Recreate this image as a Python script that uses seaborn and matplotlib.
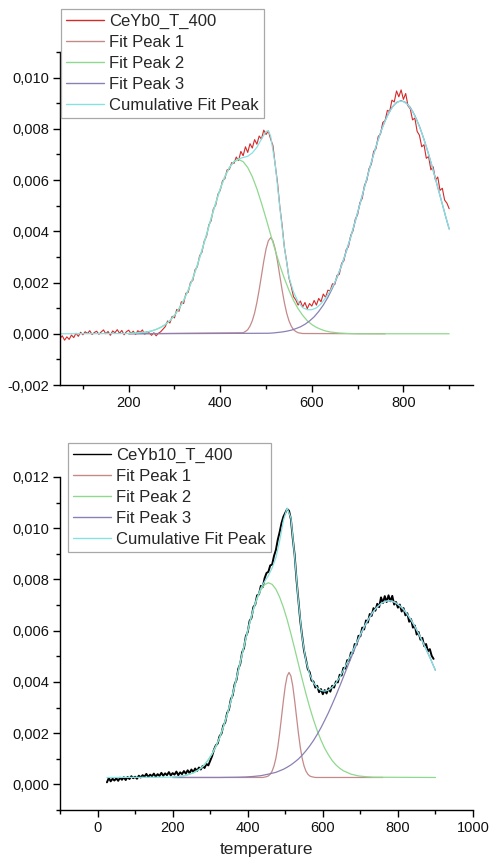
import matplotlib
matplotlib.use("Agg")
import matplotlib.pyplot as plt
import seaborn as sns
from matplotlib.ticker import MultipleLocator, FuncFormatter

# ---------------- data: top panel (CeYb0_T_400) ----------------
top_T = list(range(50, 905, 5))
top_signal = [
    -0.00018, -0.00008, -0.00025, -0.00012, -0.00022, -0.00005, -0.00015, 0.00002, -0.00010, 0.00006,
    -0.00004, 0.00008, 0.00001, 0.00012, -0.00003, 0.00005, 0.00010, -0.00002, 0.00007, 0.00015,
    0.00000, 0.00009, -0.00006, 0.00011, 0.00004, 0.00016, 0.00002, 0.00013, -0.00004, 0.00008,
    0.00014, 0.00001, 0.00010, -0.00003, 0.00012, 0.00005, 0.00015, -0.00002, 0.00009, 0.00003,
    -0.00006, 0.00004, -0.00008, 0.00002, 0.00008, 0.00018, 0.00028, 0.00050, 0.00042, 0.00068,
    0.00062, 0.00095, 0.00088, 0.00125, 0.00118, 0.00158, 0.00162, 0.00201, 0.00208, 0.00250,
    0.00262, 0.00305, 0.00318, 0.00362, 0.00380, 0.00425, 0.00441, 0.00488, 0.00502, 0.00545,
    0.00560, 0.00598, 0.00605, 0.00640, 0.00642, 0.00668, 0.00665, 0.00690, 0.00676, 0.00712,
    0.00695, 0.00730, 0.00708, 0.00742, 0.00725, 0.00758, 0.00740, 0.00772, 0.00760, 0.00795,
    0.00778, 0.00792, 0.00760, 0.00735, 0.00660, 0.00590, 0.00498, 0.00425, 0.00338, 0.00282,
    0.00218, 0.00185, 0.00145, 0.00132, 0.00112, 0.00128, 0.00105, 0.00122, 0.00098, 0.00118,
    0.00108, 0.00130, 0.00112, 0.00138, 0.00125, 0.00155, 0.00142, 0.00170, 0.00168, 0.00195,
    0.00192, 0.00228, 0.00232, 0.00275, 0.00285, 0.00328, 0.00340, 0.00385, 0.00402, 0.00448,
    0.00465, 0.00512, 0.00528, 0.00580, 0.00598, 0.00645, 0.00662, 0.00712, 0.00722, 0.00770,
    0.00780, 0.00825, 0.00832, 0.00872, 0.00868, 0.00912, 0.00905, 0.00948, 0.00925, 0.00952,
    0.00915, 0.00938, 0.00890, 0.00878, 0.00835, 0.00842, 0.00790, 0.00775, 0.00730, 0.00738,
    0.00685, 0.00692, 0.00640, 0.00652, 0.00600, 0.00612, 0.00560, 0.00568, 0.00522, 0.00510,
    0.00488,
]
top_p1_T = [200, 450, 455, 460, 465, 470, 475, 480, 485, 490, 495, 500, 505, 510, 515, 520,
            525, 530, 535, 540, 545, 550, 555, 560, 565, 570, 580, 760]
top_p1 = [0, 0.00004, 0.00009, 0.00016, 0.00030, 0.00051, 0.00081, 0.00122, 0.00172, 0.00227,
          0.00283, 0.00331, 0.00363, 0.00375, 0.00363, 0.00331, 0.00283, 0.00227, 0.00172,
          0.00122, 0.00081, 0.00051, 0.00030, 0.00016, 0.00009, 0.00004, 0.00001, 0]
top_p2_T = [200, 220, 240, 250, 260, 270, 280, 290, 300, 310, 320, 330, 340, 350, 360, 370,
            380, 390, 400, 410, 420, 430, 440, 450, 460, 470, 480, 490, 500, 510, 520, 530,
            540, 550, 560, 570, 580, 590, 600, 610, 620, 630, 640, 660, 680, 700, 900]
top_p2 = [0.00001, 0.00003, 0.00007, 0.00011, 0.00017, 0.00025, 0.00036, 0.00051, 0.00072,
          0.00098, 0.00130, 0.00170, 0.00216, 0.00268, 0.00326, 0.00387, 0.00450, 0.00510,
          0.00566, 0.00613, 0.00649, 0.00672, 0.00680, 0.00672, 0.00649, 0.00613, 0.00566,
          0.00510, 0.00450, 0.00387, 0.00326, 0.00268, 0.00216, 0.00170, 0.00130, 0.00098,
          0.00072, 0.00051, 0.00036, 0.00025, 0.00017, 0.00011, 0.00007, 0.00003, 0.00001, 0, 0]
top_p3_T = [200, 505, 515, 525, 535, 545, 555, 565, 575, 585, 595, 605, 615, 625, 635, 645,
            655, 665, 675, 685, 695, 705, 715, 725, 735, 745, 755, 765, 775, 785, 795, 805,
            815, 825, 835, 845, 855, 865, 875, 885, 895, 900]
top_p3 = [0, 0.00002, 0.00003, 0.00005, 0.00007, 0.00010, 0.00014, 0.00020, 0.00027, 0.00037,
          0.00050, 0.00066, 0.00087, 0.00112, 0.00142, 0.00178, 0.00219, 0.00267, 0.00320,
          0.00378, 0.00440, 0.00506, 0.00572, 0.00638, 0.00701, 0.00759, 0.00810, 0.00852,
          0.00884, 0.00903, 0.00910, 0.00903, 0.00884, 0.00852, 0.00810, 0.00759, 0.00701,
          0.00638, 0.00572, 0.00506, 0.00440, 0.00409]
top_cum_T = [50, 200, 220, 240, 250, 260, 270, 280, 290, 300, 310, 320, 330, 340, 350, 360,
             370, 380, 390, 400, 410, 420, 430, 440, 450, 460, 470, 480, 490, 500, 505, 510,
             520, 530, 540, 550, 560, 570, 580, 590, 600, 610, 620, 630, 640, 650, 660, 670,
             680, 690, 700, 710, 720, 730, 740, 750, 760, 770, 780, 790, 800, 810, 820, 830,
             840, 850, 860, 870, 880, 890, 900]
top_cum = [0, 0.00001, 0.00003, 0.00007, 0.00011, 0.00017, 0.00025, 0.00036, 0.00051, 0.00072,
           0.00098, 0.00130, 0.00170, 0.00216, 0.00268, 0.00326, 0.00387, 0.00450, 0.00510,
           0.00566, 0.00613, 0.00649, 0.00672, 0.00683, 0.00688, 0.00693, 0.00706, 0.00728,
           0.00760, 0.00790, 0.00792, 0.00772, 0.00662, 0.00495, 0.00338, 0.00221, 0.00163,
           0.00125, 0.00102, 0.00094, 0.00094, 0.00101, 0.00117, 0.00140, 0.00167, 0.00200,
           0.00243, 0.00293, 0.00349, 0.00409, 0.00473, 0.00539, 0.00605, 0.00670, 0.00730,
           0.00785, 0.00831, 0.00868, 0.00894, 0.00907, 0.00907, 0.00894, 0.00868, 0.00831,
           0.00785, 0.00730, 0.00670, 0.00605, 0.00539, 0.00473, 0.00409]

# ---------------- data: bottom panel (CeYb10_T_400) ----------------
bot_T = list(range(25, 900, 5))
bot_signal = [
    0.00008, 0.00025, 0.00012, 0.00022, 0.00015, 0.00024, 0.00014, 0.00026, 0.00018, 0.00028,
    0.00017, 0.00029, 0.00021, 0.00032, 0.00024, 0.00030, 0.00022, 0.00034, 0.00027, 0.00036,
    0.00030, 0.00041, 0.00029, 0.00038, 0.00032, 0.00042, 0.00030, 0.00040, 0.00033, 0.00045,
    0.00034, 0.00043, 0.00036, 0.00048, 0.00035, 0.00044, 0.00038, 0.00050, 0.00036, 0.00047,
    0.00040, 0.00052, 0.00042, 0.00055, 0.00044, 0.00058, 0.00048, 0.00062, 0.00052, 0.00066,
    0.00058, 0.00072, 0.00064, 0.00080, 0.00074, 0.00092, 0.00110, 0.00135, 0.00152, 0.00160,
    0.00188, 0.00198, 0.00230, 0.00242, 0.00278, 0.00292, 0.00332, 0.00348, 0.00390, 0.00408,
    0.00452, 0.00470, 0.00515, 0.00532, 0.00578, 0.00595, 0.00638, 0.00650, 0.00692, 0.00702,
    0.00738, 0.00742, 0.00775, 0.00770, 0.00805, 0.00825, 0.00830, 0.00855, 0.00858, 0.00892,
    0.00915, 0.00955, 0.00985, 0.01020, 0.01045, 0.01060, 0.01075, 0.01068, 0.01035, 0.00960,
    0.00895, 0.00798, 0.00720, 0.00638, 0.00578, 0.00522, 0.00488, 0.00450, 0.00438, 0.00405,
    0.00402, 0.00378, 0.00385, 0.00360, 0.00372, 0.00352, 0.00368, 0.00355, 0.00375, 0.00362,
    0.00385, 0.00378, 0.00402, 0.00398, 0.00428, 0.00425, 0.00455, 0.00452, 0.00485, 0.00482,
    0.00515, 0.00512, 0.00548, 0.00545, 0.00580, 0.00578, 0.00612, 0.00605, 0.00640, 0.00632,
    0.00665, 0.00658, 0.00688, 0.00678, 0.00705, 0.00692, 0.00730, 0.00708, 0.00735, 0.00712,
    0.00738, 0.00715, 0.00736, 0.00702, 0.00712, 0.00690, 0.00702, 0.00675, 0.00688, 0.00660,
    0.00668, 0.00635, 0.00645, 0.00612, 0.00620, 0.00585, 0.00595, 0.00565, 0.00572, 0.00540,
    0.00548, 0.00520, 0.00528, 0.00502, 0.00490,
]
bot_p1_T = [200, 440, 450, 455, 460, 465, 470, 475, 480, 485, 490, 495, 500, 505, 510, 515,
            520, 525, 530, 535, 540, 545, 550, 555, 560, 565, 570, 580, 760]
bot_p1 = [0.00027, 0.00027, 0.00030, 0.00033, 0.00040, 0.00052, 0.00072, 0.00102, 0.00145,
          0.00200, 0.00263, 0.00327, 0.00384, 0.00423, 0.00437, 0.00423, 0.00384, 0.00327,
          0.00263, 0.00200, 0.00145, 0.00102, 0.00072, 0.00052, 0.00040, 0.00033, 0.00030,
          0.00027, 0.00027]
bot_p2_T = [200, 215, 235, 255, 265, 275, 285, 295, 305, 315, 325, 335, 345, 355, 365, 375,
            385, 395, 405, 415, 425, 435, 445, 455, 465, 475, 485, 495, 505, 515, 525, 535,
            545, 555, 565, 575, 585, 595, 605, 615, 625, 635, 645, 655, 675, 695, 715, 735, 900]
bot_p2 = [0.00028, 0.00030, 0.00035, 0.00045, 0.00053, 0.00063, 0.00077, 0.00096, 0.00119,
          0.00148, 0.00182, 0.00224, 0.00271, 0.00324, 0.00382, 0.00444, 0.00507, 0.00569,
          0.00628, 0.00681, 0.00725, 0.00759, 0.00780, 0.00787, 0.00781, 0.00762, 0.00731,
          0.00691, 0.00643, 0.00588, 0.00530, 0.00470, 0.00411, 0.00354, 0.00301, 0.00253,
          0.00210, 0.00173, 0.00141, 0.00115, 0.00093, 0.00076, 0.00063, 0.00053, 0.00040,
          0.00033, 0.00030, 0.00028, 0.00027]
bot_p3_T = [200, 275, 325, 375, 395, 415, 435, 455, 475, 485, 495, 505, 515, 525, 535, 545,
            555, 565, 575, 585, 595, 605, 615, 625, 635, 645, 655, 665, 675, 685, 695, 705,
            715, 725, 735, 745, 755, 765, 775, 785, 795, 805, 815, 825, 835, 845, 855, 865,
            875, 885, 895, 900]
bot_p3 = [0.00027, 0.00027, 0.00027, 0.00028, 0.00029, 0.00031, 0.00034, 0.00040, 0.00047,
          0.00053, 0.00059, 0.00067, 0.00076, 0.00087, 0.00099, 0.00114, 0.00131, 0.00150,
          0.00171, 0.00195, 0.00221, 0.00250, 0.00280, 0.00313, 0.00347, 0.00383, 0.00420,
          0.00457, 0.00493, 0.00529, 0.00564, 0.00597, 0.00626, 0.00653, 0.00675, 0.00693,
          0.00706, 0.00714, 0.00717, 0.00715, 0.00708, 0.00697, 0.00683, 0.00664, 0.00642,
          0.00617, 0.00589, 0.00559, 0.00528, 0.00496, 0.00462, 0.00445]
bot_cum_T = [25, 195, 215, 235, 255, 265, 275, 285, 295, 305, 315, 325, 335, 345, 355, 365,
             375, 385, 395, 405, 415, 425, 435, 445, 455, 465, 475, 485, 495, 505, 515, 525,
             535, 545, 555, 565, 575, 585, 595, 605, 615, 625, 635, 645, 655, 665, 675, 685,
             695, 705, 715, 725, 735, 745, 755, 765, 775, 785, 795, 805, 815, 825, 835, 845,
             855, 865, 875, 885, 895, 900]
bot_cum = [0.00027, 0.00028, 0.00030, 0.00035, 0.00045, 0.00053, 0.00063, 0.00077, 0.00096,
           0.00119, 0.00148, 0.00182, 0.00224, 0.00272, 0.00325, 0.00383, 0.00445, 0.00508,
           0.00571, 0.00631, 0.00685, 0.00730, 0.00766, 0.00792, 0.00815, 0.00845, 0.00885,
           0.00950, 0.01030, 0.01079, 0.01040, 0.00890, 0.00715, 0.00573, 0.00483, 0.00430,
           0.00397, 0.00378, 0.00367, 0.00364, 0.00368, 0.00379, 0.00396, 0.00419, 0.00446,
           0.00476, 0.00506, 0.00538, 0.00570, 0.00601, 0.00629, 0.00654, 0.00676, 0.00693,
           0.00706, 0.00714, 0.00717, 0.00715, 0.00708, 0.00697, 0.00683, 0.00664, 0.00642,
           0.00617, 0.00589, 0.00559, 0.00528, 0.00496, 0.00462, 0.00445]

labels_fit = ["Fit Peak 1", "Fit Peak 2", "Fit Peak 3", "Cumulative Fit Peak"]

# ---------------- style ----------------
sns.set_style("ticks")
plt.rcParams["font.family"] = ["Liberation Sans", "DejaVu Sans"]
plt.rcParams["axes.linewidth"] = 1.0

C_P1 = "#c48a8a"
C_P2 = "#8fd88f"
C_P3 = "#8a80b4"
C_CUM = "#86e2e2"

W, H = 492, 867
fig = plt.figure(figsize=(W / 100, H / 100), dpi=100)
ax1 = fig.add_axes([60 / W, 1 - 385 / H, 413 / W, 333 / H])
ax2 = fig.add_axes([60 / W, 1 - 810 / H, 413 / W, 333 / H])

def comma(v, pos):
    if abs(v) < 1e-9:
        v = 0.0
    return f"{v:.3f}".replace(".", ",")

def draw(ax, T, sig, sig_color, sig_lw, sig_label, fits):
    sns.lineplot(x=T, y=sig, ax=ax, color=sig_color, lw=sig_lw, label=sig_label,
                 sort=False, estimator=None)
    for (fx, fy), col, lab in zip(fits, [C_P1, C_P2, C_P3, C_CUM], labels_fit):
        sns.lineplot(x=fx, y=fy, ax=ax, color=col, lw=0.9, label=lab,
                     sort=False, estimator=None)
    sns.despine(ax=ax)
    ax.yaxis.set_major_locator(MultipleLocator(0.002))
    ax.yaxis.set_minor_locator(MultipleLocator(0.001))
    ax.yaxis.set_major_formatter(FuncFormatter(comma))
    ax.tick_params(which="major", direction="out", length=5, width=1, labelsize=10.5,
                   color="black", labelcolor="#111111", pad=3)
    ax.tick_params(which="minor", direction="out", length=3, width=1, color="black")
    for s in ("left", "bottom"):
        ax.spines[s].set_color("black")
    ax.set_ylabel("")

draw(ax1, top_T, top_signal, "#d42a2a", 0.8, "CeYb0_T_400",
     [(top_p1_T, top_p1), (top_p2_T, top_p2), (top_p3_T, top_p3), (top_cum_T, top_cum)])
ax1.set_xlim(50, 952)
ax1.set_ylim(-0.002, 0.011)
ax1.xaxis.set_major_locator(MultipleLocator(200))
ax1.xaxis.set_minor_locator(MultipleLocator(100))
ax1.set_xlabel("")

draw(ax2, bot_T, bot_signal, "black", 1.4, "CeYb10_T_400",
     [(bot_p1_T, bot_p1), (bot_p2_T, bot_p2), (bot_p3_T, bot_p3), (bot_cum_T, bot_cum)])
ax2.set_xlim(-100, 1000)
ax2.set_ylim(-0.001, 0.012)
ax2.xaxis.set_major_locator(MultipleLocator(200))
ax2.xaxis.set_minor_locator(MultipleLocator(100))
ax2.set_xlabel("temperature", fontsize=12.5, labelpad=5)

for ax, (lx, ly) in ((ax1, (61, 9)), (ax2, (68, 443))):
    leg = ax.legend(loc="upper left", bbox_to_anchor=(lx / W, 1 - ly / H),
                    bbox_transform=fig.transFigure, borderaxespad=0, fontsize=12,
                    frameon=True, fancybox=False, framealpha=1, edgecolor="#a8a8a8",
                    labelspacing=0.36, handlelength=2.3, handletextpad=0.3,
                    borderpad=0.3)
    leg.get_frame().set_linewidth(0.9)
    for h in leg.get_lines():
        h.set_linewidth(1.0)

fig.savefig("out.png", dpi=100)
